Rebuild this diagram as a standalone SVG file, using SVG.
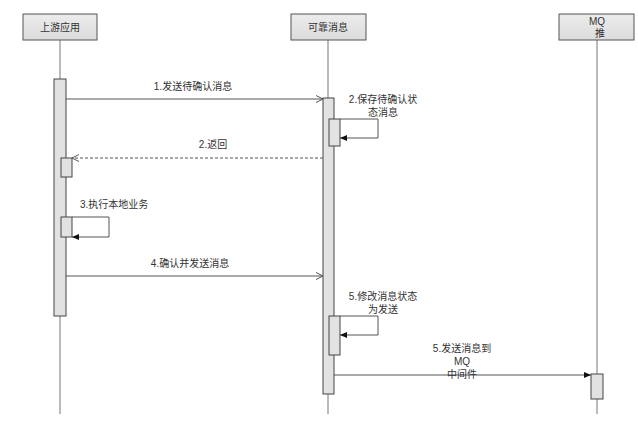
<svg xmlns="http://www.w3.org/2000/svg" width="638" height="422" viewBox="0 0 638 422">
<defs>
<linearGradient id="hg" x1="0" y1="0" x2="0" y2="1"><stop offset="0" stop-color="#ececec"/><stop offset="1" stop-color="#dcdcdc"/></linearGradient>
<marker id="open" markerWidth="8" markerHeight="8" refX="7" refY="4" orient="auto" markerUnits="userSpaceOnUse"><path d="M0,0.5 L7,4 L0,7.5" fill="none" stroke="#555" stroke-width="1"/></marker>
<marker id="fill" markerWidth="8" markerHeight="8" refX="7" refY="4" orient="auto" markerUnits="userSpaceOnUse"><path d="M0,1 L7,4 L0,7 Z" fill="#111"/></marker>
</defs>
<style>
.hd{fill:url(#hg);stroke:#555;stroke-width:1}
.act{fill:#e2e2e2;stroke:#444;stroke-width:1}
.life{stroke:#777;stroke-width:1;fill:none}
.msg{stroke:#555;stroke-width:1;fill:none}
.t{font-family:"Liberation Sans","Noto Sans CJK SC",sans-serif;font-size:10px;fill:#333}
.m{text-anchor:middle}
</style>
<g id="lifelines">
<line class="life" x1="60" y1="40" x2="60" y2="414"/>
<line class="life" x1="328" y1="40" x2="328" y2="414"/>
<line class="life" x1="597" y1="40" x2="597" y2="414"/>
</g>
<g id="node-upstream">
<rect class="hd" x="23" y="14" width="74" height="26"/>
<text class="t m" x="60" y="31">上游应用</text>
<rect class="act" x="54" y="79" width="12" height="237"/>
<rect class="act" x="61" y="158" width="11" height="19"/>
<rect class="act" x="61" y="217" width="11" height="20"/>
</g>
<g id="node-reliable">
<rect class="hd" x="291" y="14" width="75" height="26"/>
<text class="t m" x="328" y="31">可靠消息</text>
<rect class="act" x="323" y="98" width="11" height="296"/>
<rect class="act" x="329" y="119" width="11" height="27"/>
<rect class="act" x="329" y="316" width="11" height="39"/>
</g>
<g id="node-mq">
<rect class="hd" x="559" y="14" width="75" height="26"/>
<text class="t m" x="597" y="25">MQ</text>
<text class="t m" x="600" y="37">推</text>
<rect class="act" x="591" y="374" width="12" height="25"/>
</g>
<g id="connectors">
<line class="msg" x1="66" y1="99" x2="323" y2="99" marker-end="url(#open)"/>
<path class="msg" d="M340,119 H378 V138 H340" marker-end="url(#fill)"/>
<line class="msg" x1="323" y1="158" x2="72" y2="158" stroke-dasharray="3,2" marker-end="url(#open)"/>
<path class="msg" d="M72,217 H109 V237 H72" marker-end="url(#fill)"/>
<line class="msg" x1="66" y1="276" x2="323" y2="276" marker-end="url(#open)"/>
<path class="msg" d="M340,316 H378 V335 H340" marker-end="url(#fill)"/>
<line class="msg" x1="334" y1="375" x2="591" y2="375" marker-end="url(#fill)"/>
</g>
<g id="labels">
<text class="t m" x="193" y="90">1.发送待确认消息</text>
<text class="t m" x="383" y="103">2.保存待确认状</text>
<text class="t m" x="383" y="116">态消息</text>
<text class="t m" x="213" y="148">2.返回</text>
<text class="t" x="80" y="208">3.执行本地业务</text>
<text class="t m" x="190" y="267">4.确认并发送消息</text>
<text class="t m" x="383" y="300">5.修改消息状态</text>
<text class="t m" x="383" y="313">为发送</text>
<text class="t m" x="462" y="352">5.发送消息到</text>
<text class="t m" x="462" y="365">MQ</text>
<text class="t m" x="462" y="378">中间件</text>
</g>
</svg>
